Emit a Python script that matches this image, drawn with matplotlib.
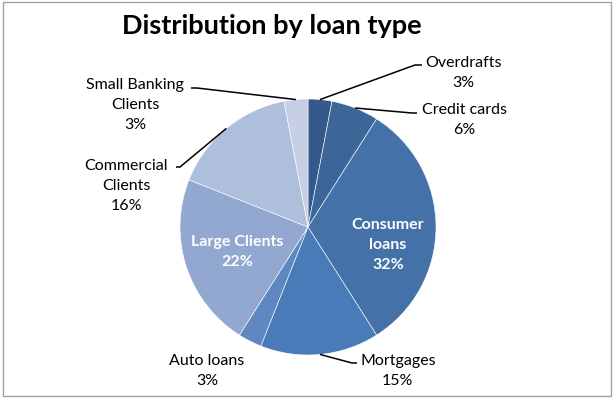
import numpy as np
import matplotlib
matplotlib.use("Agg")
import matplotlib.pyplot as plt
from matplotlib.patches import Rectangle

plt.rcParams['font.family'] = ['Lato', 'DejaVu Sans']

categories = ["Overdrafts", "Credit cards", "Consumer loans", "Mortgages",
              "Auto loans", "Large Clients", "Commercial Clients",
              "Small Banking Clients"]
shares = [3, 6, 32, 15, 3, 22, 16, 3]
label_text = ["Overdrafts", "Credit cards", "Consumer\nloans", "Mortgages",
              "Auto loans", "Large Clients", "Commercial\nClients",
              "Small Banking\nClients"]
colors = ["#34598A", "#3D6698", "#4472A8", "#497BB8",
          "#6088C0", "#93A8D1", "#ADBFDA", "#C6CFE3"]

W, H = 614, 398
CX, CY, R = 308, 227, 128   # pie centre / radius in pixels

fig = plt.figure(figsize=(W / 100, H / 100), dpi=100)
ax = fig.add_axes([(CX - R) / W, (H - CY - R) / H, 2 * R / W, 2 * R / H])
wedges, _ = ax.pie(shares, colors=colors, startangle=90, counterclock=False,
                   radius=1, wedgeprops=dict(edgecolor="white", linewidth=0.4))
ax.set_xlim(-1, 1)
ax.set_ylim(-1, 1)
ax.set_aspect("equal")
ax.axis("off")


def px(x, y):
    # pixel position -> pie data coordinates
    return (x - CX) / R, (CY - y) / R


# mid angle of each wedge
bounds = np.cumsum([0] + shares) / sum(shares)
mids = 90 - 360 * (bounds[:-1] + bounds[1:]) / 2

# outside labels: (text anchor px, ha, elbow px, line end px)
outside = {
    0: ((425, 73), "left", (415, 65), (422, 65)),
    1: ((422, 120), "left", (412, 113), (417, 113)),
    3: ((360, 371), "left", (352, 363), (357, 363)),
    4: ((207, 371), "center", None, None),
    6: ((168, 186), "right", (180, 167), (176, 167)),
    7: ((184, 105), "right", (197, 88), (191, 88)),
}
for i, (pos, ha, elbow, end) in outside.items():
    txt = f"{label_text[i]}\n{shares[i]}%"
    tx, ty = px(*pos)
    ax.text(tx, ty, txt, ha=ha, va="center", fontsize=11.5,
            multialignment="center", linespacing=1.55, clip_on=False)
    if elbow is not None:
        a = np.deg2rad(mids[i])
        x0, y0 = np.cos(a), np.sin(a)
        ex, ey = px(*elbow)
        nx, ny = px(*end)
        ax.plot([x0, ex, nx], [y0, ey, ny], color="black", lw=1.1,
                clip_on=False, solid_capstyle="butt")

# inside labels
for i, pos in {2: (388, 245), 5: (237, 252)}.items():
    tx, ty = px(*pos)
    ax.text(tx, ty, f"{label_text[i]}\n{shares[i]}%", ha="center", va="center",
            fontsize=11.5, fontweight="bold", color="white",
            multialignment="center", linespacing=1.55)

fig.text(272 / W, 1 - 26 / H, "Distribution by loan type", ha="center",
         va="center", fontsize=19.5, fontweight="bold")

# chart frame
fig.patches.append(Rectangle((3 / W, 2 / H), 608 / W, 394 / H,
                             transform=fig.transFigure, fill=False,
                             edgecolor="#A0A0A0", lw=1))

fig.savefig("out.png", dpi=100)
